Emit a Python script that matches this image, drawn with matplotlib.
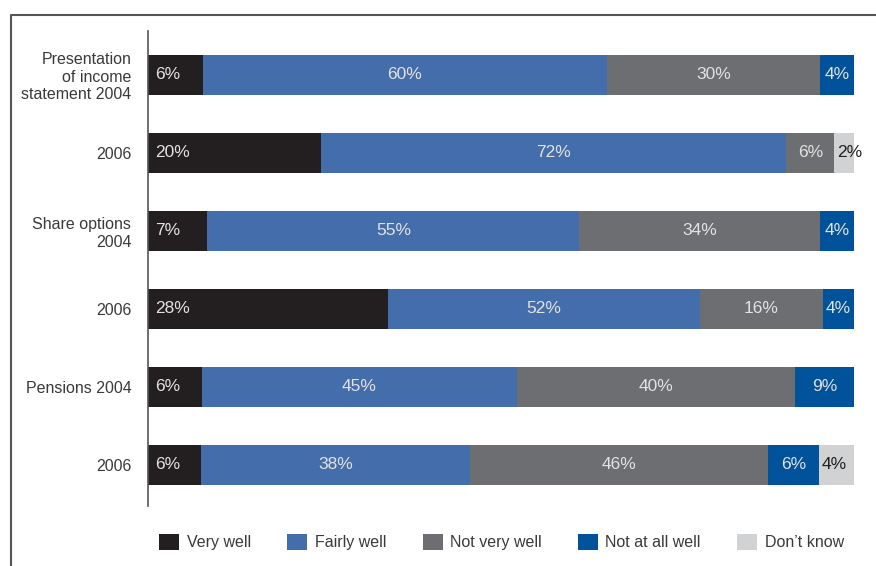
import numpy as np
import matplotlib.pyplot as plt
from matplotlib.lines import Line2D
from matplotlib.patches import Patch

plt.rcParams["font.family"] = ["Liberation Sans", "DejaVu Sans"]

# --- data ---
rows = ["Presentation\nof income\nstatement 2004", "2006",
        "Share options\n2004", "2006", "Pensions 2004", "2006"]
series = ["Very well", "Fairly well", "Not very well", "Not at all well", "Don\u2019t know"]

# percentages printed on the bars
very_well = [6, 20, 7, 28, 6, 6]
fairly_well = [60, 72, 55, 52, 45, 38]
not_very_well = [30, 6, 34, 16, 40, 46]
not_at_all_well = [4, 0, 4, 4, 9, 6]
dont_know = [0, 2, 0, 0, 0, 4]

# bar lengths as drawn in the picture (share of full bar, %)
len_very_well = [7.8, 24.5, 8.4, 34.0, 7.6, 7.5]
len_fairly_well = [57.2, 65.9, 52.7, 44.2, 44.6, 38.1]
len_not_very_well = [30.2, 6.8, 34.1, 17.4, 39.4, 42.2]
len_not_at_all_well = [4.8, 0, 4.8, 4.4, 8.4, 7.2]
len_dont_know = [0, 2.8, 0, 0, 0, 5.0]

colors = ["#231f20", "#446dab", "#6d6e71", "#00529b", "#d1d2d4"]
text_colors = ["#e2e2e2", "#e2e2e2", "#e2e2e2", "#e2e2e2", "#231f20"]

labels = [very_well, fairly_well, not_very_well, not_at_all_well, dont_know]
lengths = [len_very_well, len_fairly_well, len_not_very_well, len_not_at_all_well, len_dont_know]

# --- figure ---
W, H = 876, 566
fig = plt.figure(figsize=(W / 100, H / 100), dpi=100)
ax = fig.add_axes([148 / W, (H - 506) / H, 706 / W, 475 / H])

y = np.arange(len(rows))
left = np.zeros(len(rows))
for k in range(len(series)):
    w = np.array(lengths[k])
    ax.barh(y, w, left=left, height=0.513, color=colors[k], clip_on=False,
            label=series[k], linewidth=0)
    for i in range(len(rows)):
        if labels[k][i] == 0:
            continue
        txt = "%d%%" % labels[k][i]
        if k == 0:
            ax.text(left[i] + 1.0, y[i], txt, ha="left", va="center",
                    fontsize=12.5, color=text_colors[k])
        elif k == 4:
            ax.text(left[i] + 0.45, y[i], txt, ha="left", va="center",
                    fontsize=12.5, color=text_colors[k])
        else:
            ax.text(left[i] + w[i] / 2, y[i], txt, ha="center", va="center",
                    fontsize=12.5, color=text_colors[k])
    left = left + w

ax.set_xlim(0, 100)
ax.set_ylim(5.53, -0.56)
ax.set_yticks(y)
ax.set_yticklabels(rows, fontsize=11.5, color="#3a3a3a")
ax.tick_params(axis="y", length=0, pad=12)
ax.set_xticks([])
for s in ["top", "right", "bottom"]:
    ax.spines[s].set_visible(False)
ax.spines["left"].set_color("#555555")
ax.spines["left"].set_linewidth(1.2)

# outer frame (top and left edges)
fig.add_artist(Line2D([11 / W, 11 / W, 1.0], [0.0, 1 - 15 / H, 1 - 15 / H],
                      transform=fig.transFigure, color="#555555", linewidth=1.5))

# legend
handles = [Patch(facecolor=c, edgecolor="none") for c in colors]
fig.legend(handles, series, loc="center left", bbox_to_anchor=(145 / W, 1 - 542 / H),
           ncol=5, frameon=False, fontsize=11.5, handlelength=1.25, handleheight=1.25,
           handletextpad=0.45, columnspacing=2.3, labelcolor="#3a3a3a")

fig.savefig("out.png", dpi=100)
